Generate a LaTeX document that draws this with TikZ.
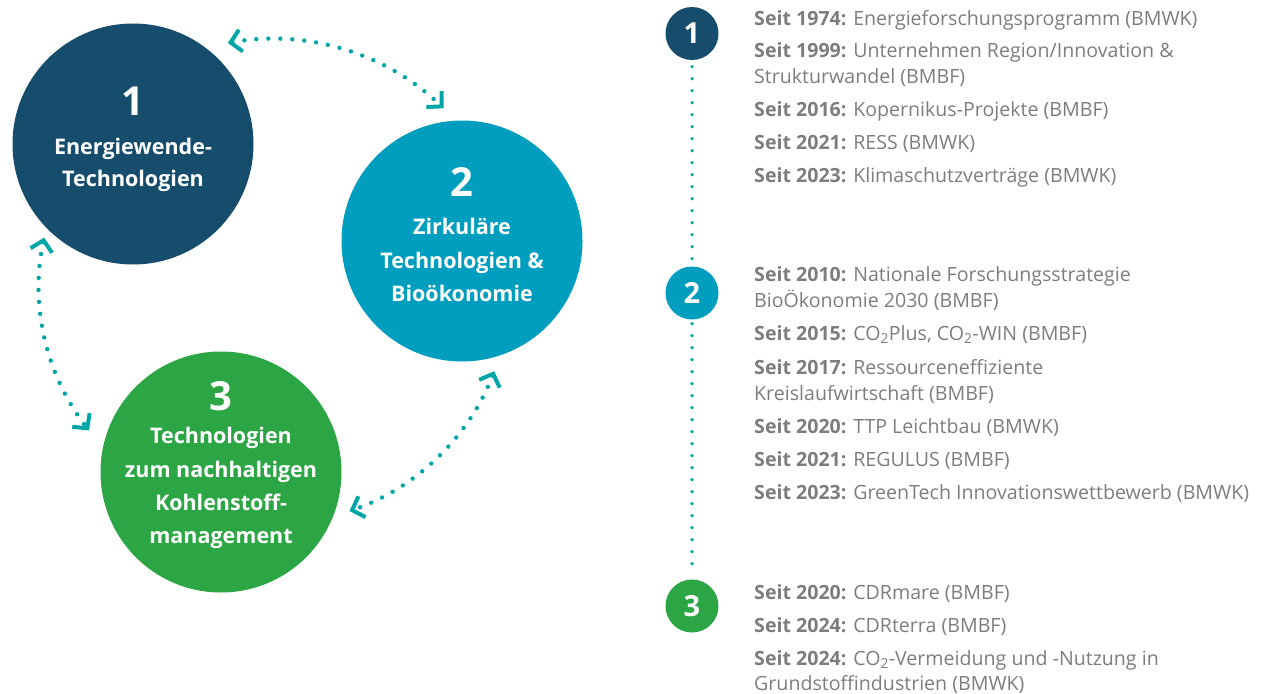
\documentclass[tikz,border=0pt]{standalone}
\usepackage{fontspec}
\setmainfont{Open Sans}
\usetikzlibrary{arrows.meta,calc}
\definecolor{dblue}{RGB}{23,77,108}
\definecolor{cblue}{RGB}{0,158,190}
\definecolor{cgreen}{RGB}{44,165,68}
\definecolor{tealdot}{RGB}{0,166,166}
\definecolor{tgray}{RGB}{125,125,125}
\begin{document}
\begin{tikzpicture}[x=1pt,y=1pt,
  bigc/.style={circle,inner sep=0pt,minimum size=241pt},
  smallc/.style={circle,inner sep=0pt,minimum size=53pt,text=white,font=\bfseries\fontsize{29}{29}\selectfont},
  bignum/.style={anchor=base,text=white,inner sep=0pt,font=\bfseries\fontsize{40}{40}\selectfont},
  bigtxt/.style={anchor=base,text=white,inner sep=0pt,font=\bfseries\fontsize{21.5}{21.5}\selectfont},
  itemtxt/.style={anchor=base west,text=tgray,inner sep=0pt,font=\fontsize{19.6}{19.6}\selectfont},
  cyc/.style={draw=tealdot,line width=4.4pt,line cap=round,dash pattern=on 0pt off 12pt,
    {Straight Barb[length=10.5pt,width=22pt,line width=4pt,sharp]}-{Straight Barb[length=10.5pt,width=22pt,line width=4pt,sharp]}},
  vdots/.style={draw=tealdot,line width=3.6pt,line cap=round,dash pattern=on 0pt off 12pt}
]
\useasboundingbox (0,0) rectangle (1268,-693);

% big circles
\node[bigc,fill=dblue] (c1) at (133,-144) {};
\node[bigc,fill=cblue] (c2) at (462,-241) {};
\node[bigc,fill=cgreen] (c3) at (221,-472) {};

\node[bignum] (n1) at (133,-115) {1};
\node[bigtxt] (t1a) at (133,-154) {Energiewende-};
\node[bigtxt] (t1b) at (133,-186) {Technologien};

\node[bignum] (n2) at (462,-196) {2};
\node[bigtxt] (t2a) at (462,-234) {Zirkuläre};
\node[bigtxt] (t2b) at (462,-268) {Technologien \&};
\node[bigtxt] (t2c) at (462,-301) {Bioökonomie};

\node[bignum] (n3) at (221,-410) {3};
\node[bigtxt] (t3a) at (221,-443.5) {Technologien};
\node[bigtxt] (t3b) at (221,-477) {zum nachhaltigen};
\node[bigtxt] (t3c) at (221,-510.5) {Kohlenstoff-};
\node[bigtxt] (t3d) at (221,-543.5) {management};

% cycle arrows
\coordinate (cc) at (272,-286);
\coordinate (a12) at ($(cc)+(100.3:247)$);
\coordinate (a13) at ($(cc)+(168:233)$);
\coordinate (a23) at ($(cc)+(-21:238)$);
\draw[cyc] (a12) arc[start angle=100.3,end angle=46,radius=247];
\draw[cyc] (a13) arc[start angle=168,end angle=218.3,radius=233];
\draw[cyc] (a23) arc[start angle=-21,end angle=-71,radius=238];

% timeline
\node[smallc,fill=dblue] (s1) at (692,-33.5) {1};
\node[smallc,fill=cblue] (s2) at (692,-293) {2};
\node[smallc,fill=cgreen] (s3) at (692,-606) {3};
\draw[vdots,shorten <=6.5pt,shorten >=2pt] (s1) -- (s2);
\draw[vdots,shorten <=4pt,shorten >=6pt] (s2) -- (s3);

% entries group 1
\node[itemtxt] (e11) at (754,-26) {\textbf{Seit 1974:} Energieforschungsprogramm (BMWK)};
\node[itemtxt] (e12) at (754,-57.5) {\textbf{Seit 1999:} Unternehmen Region/Innovation \&};
\node[itemtxt] (e12b) at (754,-83.5) {Strukturwandel (BMBF)};
\node[itemtxt] (e13) at (754,-116.5) {\textbf{Seit 2016:} Kopernikus-Projekte (BMBF)};
\node[itemtxt] (e14) at (754,-149.5) {\textbf{Seit 2021:} RESS (BMWK)};
\node[itemtxt] (e15) at (754,-182.5) {\textbf{Seit 2023:} Klimaschutzverträge (BMWK)};

% entries group 2
\node[itemtxt] (e21) at (754,-281) {\textbf{Seit 2010:} Nationale Forschungsstrategie};
\node[itemtxt] (e21b) at (754,-307) {BioÖkonomie 2030 (BMBF)};
\node[itemtxt] (e22) at (754,-340) {\textbf{Seit 2015:} CO\textsubscript{2}Plus, CO\textsubscript{2}-WIN (BMBF)};
\node[itemtxt] (e23) at (754,-374) {\textbf{Seit 2017:} Ressourceneffiziente};
\node[itemtxt] (e23b) at (754,-400) {Kreislaufwirtschaft (BMBF)};
\node[itemtxt] (e24) at (754,-433) {\textbf{Seit 2020:} TTP Leichtbau (BMWK)};
\node[itemtxt] (e25) at (754,-466) {\textbf{Seit 2021:} REGULUS (BMBF)};
\node[itemtxt] (e26) at (754,-499) {\textbf{Seit 2023:} GreenTech Innovationswettbewerb (BMWK)};

% entries group 3
\node[itemtxt] (e31) at (754,-599) {\textbf{Seit 2020:} CDRmare (BMBF)};
\node[itemtxt] (e32) at (754,-632) {\textbf{Seit 2024:} CDRterra (BMBF)};
\node[itemtxt] (e33) at (754,-665) {\textbf{Seit 2024:} CO\textsubscript{2}-Vermeidung und -Nutzung in};
\node[itemtxt] (e33b) at (754,-690) {Grundstoffindustrien (BMWK)};
\end{tikzpicture}
\end{document}
